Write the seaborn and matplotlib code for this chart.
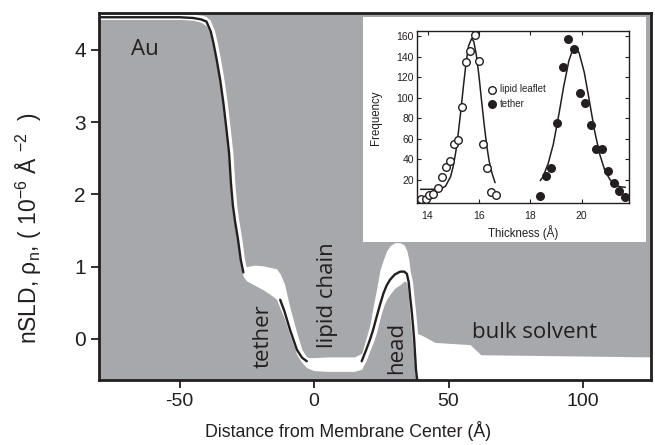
import matplotlib
matplotlib.use("Agg")
import matplotlib.pyplot as plt
import seaborn as sns
import numpy as np
from matplotlib.patches import Rectangle
from matplotlib.transforms import ScaledTranslation

# ---------------- data ----------------
profile_x = [-80, -50, -45, -42, -40, -38.4, -37.4, -36.2, -34.9, -33.7,
             -32.7, -31.6, -30.9, -30.2, -29.4, -28.3, -27.3, -26.3, -25, -22,
             -19, -16.5, -14, -12.6, -11, -8.9, -6.4, -4.5, -2.7, 0,
             5, 10, 15, 17.7, 19.3, 20.8, 22, 23.3, 24.5, 25.8,
             27, 28.3, 30, 32, 33.5, 34.5, 35.2, 35.7, 36.2, 36.7,
             37.2, 37.9, 38.5, 40, 45, 58, 62, 125]
profile_median = [4.45, 4.45, 4.44, 4.42, 4.39, 4.25, 4.09, 3.86, 3.58, 3.26,
                  2.94, 2.57, 2.15, 1.85, 1.63, 1.38, 1.10, 0.92, 0.88, 0.86,
                  0.83, 0.78, 0.70, 0.54, 0.38, 0.12, -0.15, -0.26, -0.31, -0.33,
                  -0.34, -0.34, -0.34, -0.31, -0.16, -0.01, 0.13, 0.31, 0.47, 0.63,
                  0.74, 0.82, 0.89, 0.93, 0.93, 0.90, 0.78, 0.59, 0.42, 0.22,
                  0.00, -0.43, -0.62, -0.65, -0.65, -0.65, -0.65, -0.65]
band_lo = [4.42, 4.42, 4.41, 4.38, 4.33, 4.20, 4.03, 3.80, 3.52, 3.20,
           2.88, 2.50, 2.10, 1.80, 1.58, 1.33, 1.05, 0.86, 0.80, 0.74,
           0.68, 0.62, 0.55, 0.42, 0.28, 0.04, -0.22, -0.33, -0.40, -0.44,
           -0.45, -0.45, -0.45, -0.42, -0.30, -0.15, -0.05, 0.10, 0.30, 0.45,
           0.55, 0.62, 0.70, 0.75, 0.80, 0.78, 0.55, 0.30, 0.10, -0.10,
           -0.30, -0.60, -0.60, -0.60, -0.60, -0.60, -0.60, -0.60]
band_hi = [4.49, 4.49, 4.49, 4.48, 4.46, 4.34, 4.18, 3.95, 3.67, 3.35,
           3.03, 2.66, 2.25, 1.95, 1.72, 1.47, 1.18, 1.00, 1.00, 1.02,
           1.01, 0.99, 0.97, 0.90, 0.76, 0.42, 0.08, -0.15, -0.26, -0.26,
           -0.25, -0.25, -0.25, -0.20, 0.00, 0.20, 0.45, 0.70, 0.95, 1.10,
           1.22, 1.29, 1.33, 1.33, 1.30, 1.22, 1.10, 0.95, 0.75, 0.45,
           0.20, 0.08, 0.07, 0.05, -0.05, -0.08, -0.22, -0.25]
dark_ranges = [(-80, -26.3), (-13.5, -2.7), (17.7, 38.5)]

region_labels = ["Au", "tether", "lipid chain", "head", "bulk solvent"]

# inset histogram data
leaflet_x = [13.75, 13.93, 14.06, 14.23, 14.39, 14.55, 14.71, 14.87, 15.04, 15.19,
             15.35, 15.51, 15.66, 15.83, 16.0, 16.16, 16.31, 16.48, 16.65]
leaflet_y = [1, 1, 5, 6, 12, 23, 32, 38, 55, 59, 91, 135, 146, 161, 136, 55, 31, 8, 5]
tether_x = [18.39, 18.6, 18.82, 19.04, 19.26, 19.48, 19.70, 19.92, 20.14, 20.36,
            20.57, 20.81, 21.03, 21.25, 21.47, 21.69]
tether_y = [4, 24, 31, 75, 130, 157, 148, 105, 95, 73, 50, 50, 28, 17, 9, 3]
leaflet_fit_x = [13.73, 14.0, 14.3, 14.5, 14.7, 14.9, 15.0, 15.1, 15.2, 15.3, 15.4, 15.5,
                 15.6, 15.72, 15.8, 15.9, 16.0, 16.1, 16.2, 16.3, 16.4, 16.5, 16.63]
leaflet_fit_y = [10.5, 10.5, 10.6, 10.8, 13.5, 23, 33, 47, 66, 88, 112, 134,
                 151, 158, 155, 142, 122, 98, 75, 54, 38, 27, 17]
tether_fit_x = [18.39, 18.5, 18.7, 18.9, 19.1, 19.3, 19.5, 19.65, 19.75, 19.9, 20.1,
                20.3, 20.5, 20.7, 20.9, 21.1, 21.3, 21.5, 21.7]
tether_fit_y = [19, 23, 36, 55, 82, 111, 136, 147, 149, 144, 125,
                97, 68, 45, 29, 20, 15, 13, 12.5]

main_xticks = [-50, 0, 50, 100]
main_yticks = [0, 1, 2, 3, 4]
inset_xticks = [14, 16, 18, 20]
inset_yticks = [20, 40, 60, 80, 100, 120, 140, 160]

# ---------------- style ----------------
GRAY = "#a7a8ab"
DARK = "#231f20"
sns.set_style("ticks")
plt.rcParams["font.family"] = ["Liberation Sans", "DejaVu Sans"]
plt.rcParams["mathtext.fontset"] = "custom"
plt.rcParams["mathtext.rm"] = "Liberation Sans"
plt.rcParams["mathtext.it"] = "Liberation Sans:italic"
plt.rcParams["axes.unicode_minus"] = False

fig = plt.figure(figsize=(6.55, 4.45), dpi=100)
ax = fig.add_axes([0.151, 0.146, 0.843, 0.825])
ax.set_facecolor(GRAY)

px = np.array(profile_x)
pm = np.array(profile_median)
ax.fill_between(px, band_lo, band_hi, color="white", lw=0, zorder=1)
sns.lineplot(x=px, y=pm, color="white", lw=3.6, ax=ax, sort=False,
             estimator=None, zorder=2)
ax.lines[-1].set_transform(ax.transData +
                           ScaledTranslation(1.3 / 72, 0, fig.dpi_scale_trans))
for lo, hi in dark_ranges:
    m = (px >= lo) & (px <= hi)
    sns.lineplot(x=px[m], y=pm[m], color=DARK, lw=1.7, ax=ax, sort=False,
                 estimator=None, zorder=3)

ax.set_xlim(-80, 125.3)
ax.set_ylim(-0.57, 4.51)
ax.set_xticks(main_xticks)
ax.set_yticks(main_yticks)
ax.tick_params(direction="out", length=6, width=1.3, pad=3.5,
               colors=DARK, top=False, right=False)
ax.tick_params(axis="x", labelsize=14)
ax.tick_params(axis="y", labelsize=15)
for sp in ax.spines.values():
    sp.set_linewidth(2.0)
    sp.set_color(DARK)
    sp.set_visible(True)
ax.set_xlabel("Distance from Membrane Center (Å)", fontsize=12.8, color=DARK)
ax.xaxis.set_label_coords(0.451, -0.112)
ax.set_ylabel("nSLD, ρ$_\\mathrm{n}$, ( 10$^{-6}$ Å $^{-2}$  )", fontsize=16.5,
              color=DARK)
ax.yaxis.set_label_coords(-0.10, 0.414)

afont = dict(family=["Open Sans", "DejaVu Sans"], fontsize=16, color=DARK)
ax.text(-62.8, 3.93, region_labels[0], ha="center", va="baseline", **afont)
ax.text(-17.0, 0.04, region_labels[1], rotation=90, rotation_mode="anchor",
        ha="center", va="baseline", **afont)
ax.text(6.9, 0.61, region_labels[2], rotation=90, rotation_mode="anchor",
        ha="center", va="baseline", **afont)
ax.text(32.6, -0.12, region_labels[3], rotation=90, rotation_mode="anchor",
        ha="center", va="baseline", **afont)
ax.text(81.8, 0.014, region_labels[4], ha="center", va="baseline", **afont)

ax.add_patch(Rectangle((0.554, 0.456), 0.432, 0.506, transform=fig.transFigure,
                       facecolor="white", edgecolor="none", zorder=5, clip_on=False))

# ---------------- inset ----------------
ins = fig.add_axes([0.637, 0.544, 0.324, 0.387])
ins.set_facecolor("white")
sns.lineplot(x=leaflet_fit_x, y=leaflet_fit_y, color=DARK, lw=1.1, ax=ins,
             sort=False, estimator=None)
sns.lineplot(x=tether_fit_x, y=tether_fit_y, color=DARK, lw=1.1, ax=ins,
             sort=False, estimator=None)
sns.scatterplot(x=leaflet_x, y=leaflet_y, ax=ins, s=30, color="white",
                edgecolor=DARK, linewidth=1.0, label="lipid leaflet", zorder=4)
sns.scatterplot(x=tether_x, y=tether_y, ax=ins, s=30, color=DARK,
                edgecolor=DARK, linewidth=1.0, label="tether", zorder=4)
ins.set_xlim(13.6, 21.86)
ins.set_ylim(-2.8, 165.6)
ins.set_xticks(inset_xticks)
ins.set_yticks(inset_yticks)
ins.tick_params(direction="in", length=3, width=0.8, labelsize=7.5, colors=DARK,
                top=True, right=True)
ins.tick_params(axis="x", pad=6)
ins.tick_params(axis="y", pad=2.5)
for sp in ins.spines.values():
    sp.set_linewidth(1.0)
    sp.set_color(DARK)
    sp.set_visible(True)
ins.set_xlabel("Thickness (Å)", fontsize=8.3, color=DARK)
ins.xaxis.set_label_coords(0.5, -0.128)
ins.set_ylabel("Frequency", fontsize=8.3, color=DARK)
ins.yaxis.set_label_coords(-0.165, 0.494)
ins.legend(loc="center left", bbox_to_anchor=(0.33, 0.618), frameon=False,
           fontsize=7, borderpad=0, borderaxespad=0, handletextpad=0.3,
           labelspacing=0.45, handlelength=1.0)

fig.savefig("out.png", dpi=100)
